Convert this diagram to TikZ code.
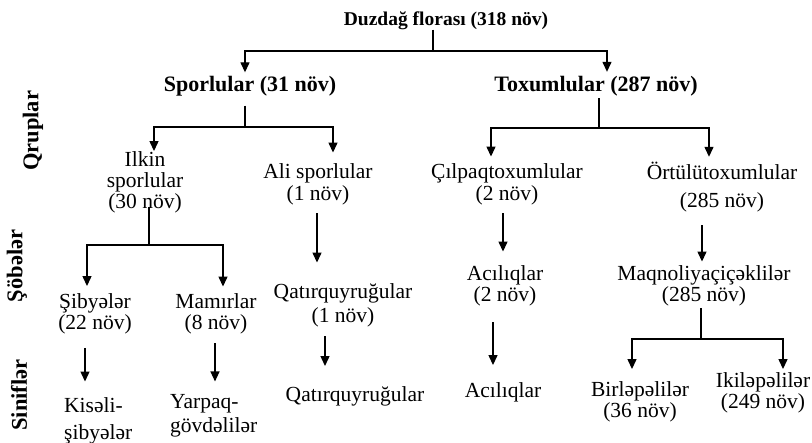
\documentclass[tikz,border=0pt]{standalone}
\usepackage{fontspec}
\setmainfont{Liberation Serif}
\usetikzlibrary{arrows.meta}
\begin{document}
\begin{tikzpicture}[x=1pt,y=-1pt,
    floraTxt/.style={font=\fontsize{21.5}{21}\selectfont,align=center,inner sep=0pt},
    floraHead/.style={font=\bfseries\fontsize{22}{22}\selectfont,inner sep=0pt},
    floraTitle/.style={font=\bfseries\fontsize{19.5}{20}\selectfont,inner sep=0pt},
    floraSide/.style={font=\bfseries\fontsize{22.5}{22}\selectfont,rotate=90,inner sep=0pt},
    floraLine/.style={line width=1.3pt},
    floraArr/.style={floraLine,-{Triangle[width=9pt,length=10pt]}},
]
\useasboundingbox (0,0) rectangle (812,443);
% Levels
\node[floraSide] (qrup) at (33,131) {Qruplar};
\node[floraSide] (sobe) at (17,266) {Şöbələr};
\node[floraSide] (sinif) at (19,395) {Siniflər};
% Flora and groups
\node[floraTitle] (flora) at (446,20.4) {Duzdağ florası (318 növ)};
\node[floraHead] (spor) at (250,86.5) {Sporlular (31 növ)};
\node[floraHead] (tox) at (596,86) {Toxumlular (287 növ)};
% Qruplar
\node[floraTxt] (ilkin) at (145,182) {Ilkin\\sporlular\\(30 növ)};
\node[floraTxt] (ali) at (318,184.5) {Ali sporlular\\[1pt](1 növ)};
\node[floraTxt] (cilp) at (507,184.5) {Çılpaqtoxumlular\\[1pt](2 növ)};
\node[floraTxt] (ortu) at (722,187) {Örtülütoxumlular\\[7pt](285 növ)};
% Şöbələr
\node[floraTxt] (sib) at (95,313.5) {Şibyələr\\(22 növ)};
\node[floraTxt] (mam) at (216,314) {Mamırlar\\(8 növ)};
\node[floraTxt] (qat) at (343,305.5) {Qatırquyruğular\\[3pt](1 növ)};
\node[floraTxt] (aci) at (505,286) {Acılıqlar\\(2 növ)};
\node[floraTxt] (maq) at (704,286) {Maqnoliyaçiçəklilər\\(285 növ)};
% Siniflər
\node[floraTxt,align=left,anchor=west] (kis) at (64,421) {Kisəli-\\[6pt]şibyələr};
\node[floraTxt,align=left,anchor=west] (yar) at (170,416) {Yarpaq-\\[3pt]gövdəlilər};
\node[floraTxt] (qat2) at (355,396) {Qatırquyruğular};
\node[floraTxt] (aci2) at (503,392) {Acılıqlar};
\node[floraTxt] (bir) at (640,401.5) {Birləpəlilər\\(36 növ)};
\node[floraTxt] (iki) at (763,392.5) {Ikiləpəlilər\\(249 növ)};
% Branches
\coordinate (jFlora) at (433,51);
\coordinate (jSpor) at (245,127);
\coordinate (jTox) at (599,128);
\coordinate (jIlkin) at (149,245);
\coordinate (jMaq) at (701,339);
\draw[floraLine] (flora.south -| jFlora) -- (jFlora);
\draw[floraArr] (jFlora) -| ([xshift=-5pt,yshift=4pt]spor.north);
\draw[floraArr] (jFlora) -| ([xshift=11pt,yshift=4pt]tox.north);
\draw[floraLine] ([yshift=-9pt]spor.south -| jSpor) -- (jSpor);
\draw[floraArr] (jSpor) -| ([xshift=9pt]ilkin.north);
\draw[floraArr] (jSpor) -| ([xshift=15pt,yshift=11pt]ali.north);
\draw[floraLine] ([yshift=-2pt]tox.south -| jTox) -- (jTox);
\draw[floraArr] (jTox) -| ([xshift=-16pt,yshift=7pt]cilp.north);
\draw[floraArr] (jTox) -| ([xshift=-13pt,yshift=5pt]ortu.north);
\draw[floraLine] ([yshift=6pt]ilkin.south -| jIlkin) -- (jIlkin);
\draw[floraArr] (jIlkin) -| ([xshift=-8pt,yshift=7pt]sib.north);
\draw[floraArr] (jIlkin) -| ([xshift=7pt,yshift=7pt]mam.north);
\draw[floraLine] ([yshift=-2pt]maq.south -| jMaq) -- (jMaq);
\draw[floraArr] (jMaq) -| ([xshift=-8pt,yshift=12pt]bir.north);
\draw[floraArr] (jMaq) -| ([xshift=20pt,yshift=3pt]iki.north);
% Single arrows
\draw[floraArr] ([xshift=-1pt,yshift=-8pt]ali.south) -- ([xshift=-26pt,yshift=21pt]qat.north);
\draw[floraArr] ([xshift=-4pt,yshift=-8pt]cilp.south) -- ([xshift=-2pt,yshift=14pt]aci.north);
\draw[floraArr] ([xshift=-20pt,yshift=-13pt]ortu.south) -- ([xshift=-2pt,yshift=4pt]maq.north);
\draw[floraArr] ([xshift=-10pt,yshift=-14pt]sib.south) -- ([xshift=-10pt,yshift=16pt]sib.south |- kis.north);
\draw[floraArr] ([xshift=-1pt,yshift=-9pt]mam.south) -- ([xshift=-1pt,yshift=13pt]mam.south |- yar.north);
\draw[floraArr] ([xshift=-18pt,yshift=-9pt]qat.south) -- ([xshift=-18pt,yshift=20pt]qat.south |- qat2.north);
\draw[floraArr] ([xshift=-12pt,yshift=-16pt]aci.south) -- ([xshift=-12pt,yshift=17pt]aci.south |- aci2.north);
\end{tikzpicture}
\end{document}
